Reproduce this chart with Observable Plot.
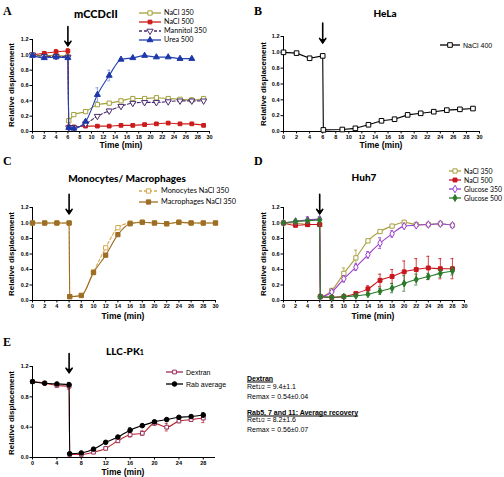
<!DOCTYPE html>
<html><head><meta charset="utf-8">
<script src="https://cdn.jsdelivr.net/npm/d3@7"></script>
<script src="https://cdn.jsdelivr.net/npm/@observablehq/plot@0.6"></script>
<style>
body{margin:0;background:#fff}
#fig{position:relative;width:504px;height:477px;overflow:hidden;background:#fff}
.t{position:absolute;white-space:nowrap;line-height:1;color:#000}
.abs{position:absolute}
</style></head><body><div id="fig"></div>
<script>
// ---------- DATA ----------
// Panel A: mCCDcII
const timeA = [0,2,4,6,6.15,7,9,11,13,15,17,19,21,23,25,27,29];
const aNaCl350 = [1.00,0.99,0.99,0.98,0.14,0.22,0.26,0.35,0.37,0.40,0.43,0.43,0.44,0.43,0.42,0.41,0.43];
const aNaCl350Err = [0,0,0,0,0.02,0.02,0.01,0.01,0.01,0.01,0.01,0.01,0.02,0.02,0.02,0.03,0.02];
const aNaCl500 = [1.00,1.02,1.04,1.05,0.06,0.06,0.07,0.07,0.07,0.08,0.08,0.09,0.10,0.11,0.10,0.10,0.08];
const aNaCl500Err = [0.01,0.02,0.03,0.03,0.02,0.01,0.01,0.01,0.01,0.01,0.01,0.01,0.01,0.01,0.01,0.01,0.01];
const aMannitol350 = [1.00,0.98,0.98,0.97,0.05,0.05,0.10,0.20,0.27,0.33,0.37,0.38,0.38,0.39,0.40,0.40,0.40];
const aMannitol350Err = [0,0,0,0,0.01,0.01,0.01,0.01,0.02,0.01,0.01,0.02,0.01,0.01,0.01,0.02,0.01];
const aUrea500 = [0.99,0.96,0.97,0.96,0.05,0.04,0.13,0.48,0.73,0.94,0.96,0.99,0.97,0.97,0.95,0.95,null];
const aUrea500Err = [0.01,0.02,0.01,0.01,0.01,0.01,0.01,0.09,0.07,0.01,0.01,0.01,0.01,0.01,0.01,0.01,0];
// Panel B: HeLa
const timeB = [0,2,4,6,6.1,9,11,13,15,17,19,21,23,25,27,29];
const bNaCl400 = [1.00,0.99,0.925,0.955,0.02,0.025,0.04,0.085,0.135,0.155,0.21,0.23,0.25,0.27,0.28,0.29];
// Panel C: Monocytes / Macrophages
const timeC = [0,2,4,6,6.1,8,10,12,14,16,18,20,22,24,26,28,30];
const cMonocytes = [1.00,1.00,1.00,1.00,0.05,0.065,0.37,0.68,0.94,1.00,1.01,1.00,0.99,1.01,1.00,1.00,1.00];
const cMacrophages = [1.00,1.00,1.00,1.00,0.05,0.065,0.36,0.585,0.85,0.99,1.01,1.00,0.99,1.01,1.00,1.00,1.00];
// Panel D: Huh7
const timeD = [0,2,4,6,6.1,8,10,12,14,16,18,20,22,24,26,28];
const dNaCl350 = [1.00,1.00,0.98,0.98,0.05,0.13,0.35,0.55,0.77,0.89,0.96,1.01,0.98,0.98,0.99,0.97];
const dNaCl350Err = [0,0.01,0.01,0.01,0,0.02,0.07,0.10,0.02,0.02,0.02,0.02,0.01,0.01,0.01,0.01];
const dNaCl500 = [1.00,0.97,0.98,0.98,0.05,0.04,0.05,0.09,0.15,0.26,0.31,0.37,0.40,0.42,0.41,0.41];
const dNaCl500Err = [0,0.01,0.01,0.01,0,0,0,0.01,0.04,0.08,0.09,0.14,0.14,0.15,0.13,0.13];
const dGlucose350 = [1.00,1.02,1.04,1.05,0.05,0.11,0.28,0.43,0.59,0.74,0.86,0.96,0.97,0.98,0.99,0.97];
const dGlucose350Err = [0.01,0.02,0.04,0.03,0,0.02,0.04,0.04,0.04,0.07,0.04,0.02,0.01,0.01,0.01,0.01];
const dGlucose500 = [1.00,1.02,1.03,1.04,0.05,0.04,0.05,0.06,0.08,0.12,0.16,0.22,0.27,0.31,0.35,0.38];
const dGlucose500Err = [0,0.01,0.01,0.01,0,0,0,0,0.01,0.04,0.06,0.10,0.07,0.04,0.05,0.05];
// Panel E: LLC-PK1
const timeE = [0,2,4,6,6.1,8,10,12,14,16,18,20,22,24,26,28];
const eDextran = [1.00,0.98,0.95,0.94,0.04,0.04,0.07,0.12,0.22,0.30,0.32,0.45,0.40,0.48,0.50,0.52];
const eDextranErr = [0,0.01,0.02,0.04,0,0.01,0.01,0.01,0.02,0.03,0.03,0.02,0.05,0.01,0.02,0.06];
const eRab = [1.00,0.98,0.97,0.96,0.05,0.06,0.11,0.20,0.27,0.36,0.42,0.47,0.50,0.53,0.54,0.56];
const eRabErr = [0,0.01,0.01,0.03,0,0.01,0.01,0.01,0.01,0.03,0.01,0.02,0.01,0.01,0.01,0.03];
// ticks
const ticksX2 = [0,2,4,6,8,10,12,14,16,18,20,22,24,26,28,30];
const ticksX4 = [0,4,8,12,16,20,24,28];
const ticksY2 = [0,0.2,0.4,0.6,0.8,1.0,1.2];
const ticksY4 = [0,0.4,0.8,1.2];
// stimulus arrow (time of addition, arrow from / to in y units)
const arrowStim = [{t:6, from:1.37, to:1.12}];
const statsE = [
  {head:"Dextran", ret:"9.4±1.1", remax:"0.54±0.04"},
  {head:"Rab5, 7 and 11: Average recovery", ret:"8.2±1.6", remax:"0.56±0.07"}
];

// ---------- HELPERS ----------
const fig = document.getElementById("fig");
const SANS = "'Liberation Sans', Arial, sans-serif";
const HUM = "Lato, 'Open Sans', sans-serif";

function text(str, x, y, {size=8, weight="normal", family=SANS, anchor="middle", html=false, underline=false}={}) {
  const d = document.createElement("div");
  d.className = "t";
  if (html) d.innerHTML = str; else d.textContent = str;
  d.style.left = x + "px"; d.style.top = y + "px";
  d.style.fontSize = size + "px"; d.style.fontWeight = weight; d.style.fontFamily = family;
  if (underline) d.style.textDecoration = "underline";
  const tx = anchor === "middle" ? "-50%" : anchor === "end" ? "-100%" : "0";
  d.style.transform = `translate(${tx},-50%)`;
  fig.appendChild(d);
  return d;
}
function ylabel(str, x, yc) {
  const d = document.createElement("div");
  d.className = "t";
  d.textContent = str;
  d.style.fontSize = "8px"; d.style.fontWeight = "bold"; d.style.fontFamily = SANS;
  d.style.left = x + "px"; d.style.top = yc + "px";
  d.style.transform = "translate(-50%,-50%) rotate(-90deg)";
  fig.appendChild(d);
}
const symMap = {square: d3.symbolSquare, triangle: d3.symbolTriangle, diamond: d3.symbolDiamond, circle: d3.symbolCircle};
function legendItem(s, x1, x2, y, label, {size=7.2, family=HUM}={}) {
  const svgNS = "http://www.w3.org/2000/svg";
  const w = x2 - x1;
  const svg = document.createElementNS(svgNS, "svg");
  svg.setAttribute("width", w + 10); svg.setAttribute("height", 14);
  svg.setAttribute("class", "abs");
  svg.style.left = (x1 - 5) + "px"; svg.style.top = (y - 7) + "px";
  const ln = document.createElementNS(svgNS, "line");
  ln.setAttribute("x1", 5); ln.setAttribute("x2", 5 + w); ln.setAttribute("y1", 7); ln.setAttribute("y2", 7);
  ln.setAttribute("stroke", s.line); ln.setAttribute("stroke-width", 1.3);
  if (s.dash) ln.setAttribute("stroke-dasharray", s.dash);
  svg.appendChild(ln);
  const p = document.createElementNS(svgNS, "path");
  p.setAttribute("d", d3.symbol(symMap[s.symbol], Math.PI * s.r * s.r)());
  p.setAttribute("transform", `translate(${5 + w/2},7) rotate(${s.rotate||0})`);
  p.setAttribute("fill", s.fill); p.setAttribute("stroke", s.stroke); p.setAttribute("stroke-width", 1);
  svg.appendChild(p);
  fig.appendChild(svg);
  text(label, x2 + 3, y, {size, family, anchor: "start"});
}

function panel({left, top, width, height, mL, mR, mT, mB, t, series, xTicks, yTicks}) {
  const marks = [
    Plot.ruleY([0], {stroke: "#000", strokeWidth: 1}),
    Plot.ruleX([0], {stroke: "#000", strokeWidth: 1}),
    Plot.axisX({ticks: xTicks, tickSize: 2.5, tickPadding: 1.5, fontSize: 5.5, fontWeight: "bold", label: null}),
    Plot.axisY({ticks: yTicks, tickFormat: d3.format(".1f"), tickSize: 2.5, tickPadding: 1.5, fontSize: 5.5, fontWeight: "bold", label: null})
  ];
  for (const s of series) {
    const rows = t.map((tt, i) => ({t: tt, v: s.v[i], e: s.e ? s.e[i] : 0})).filter(d => d.v != null);
    const er = rows.filter(d => d.e > 0);
    marks.push(Plot.line(rows, {x: "t", y: "v", stroke: s.line, strokeWidth: 1.1, strokeDasharray: s.dash, curve: s.curve || "monotone-x"}));
    const ec = s.err || s.line;
    marks.push(Plot.ruleX(er, {x: "t", y1: d => d.v - d.e, y2: d => d.v + d.e, stroke: ec, strokeWidth: 0.8}));
    marks.push(Plot.ruleY(er, {y: d => d.v + d.e, x1: d => d.t - 0.25, x2: d => d.t + 0.25, stroke: ec, strokeWidth: 0.8}));
    marks.push(Plot.ruleY(er, {y: d => d.v - d.e, x1: d => d.t - 0.25, x2: d => d.t + 0.25, stroke: ec, strokeWidth: 0.8}));
    marks.push(Plot.dot(rows, {x: "t", y: "v", symbol: s.symbol, r: s.r, fill: s.fill, stroke: s.stroke, strokeWidth: 1, rotate: s.rotate || 0}));
  }
  marks.push(Plot.arrow(arrowStim, {x1: "t", x2: "t", y1: "from", y2: "to", stroke: "#000", strokeWidth: 1.6, headLength: 5, headAngle: 70}));
  marks.push(Plot.dot(arrowStim, {x: "t", y: "to", symbol: "triangle", rotate: 180, r: 2.2, fill: "#000", dy: -2}));
  const p = Plot.plot({
    width, height, marginLeft: mL, marginRight: mR, marginTop: mT, marginBottom: mB,
    x: {domain: [0, 30]}, y: {domain: [0, 1.2]},
    style: {fontFamily: SANS, background: "transparent", overflow: "visible"},
    marks
  });
  p.style.position = "absolute"; p.style.left = left + "px"; p.style.top = top + "px";
  fig.appendChild(p);
}

// ---------- SERIES STYLES ----------
const OLIVE = "#a3a13a", RED = "#cc1b1b", DPURP = "#4a2c6e", BLUE = "#2443b3";
const sA = [
  {v: aNaCl350, e: aNaCl350Err, line: OLIVE, symbol: "square", r: 2.4, fill: "#fff", stroke: OLIVE},
  {v: aNaCl500, e: aNaCl500Err, line: RED, symbol: "square", r: 2.1, fill: RED, stroke: RED},
  {v: aMannitol350, e: aMannitol350Err, line: DPURP, dash: "3,2", symbol: "triangle", rotate: 180, r: 2.3, fill: "#fff", stroke: DPURP},
  {v: aUrea500, e: aUrea500Err, line: BLUE, err: "#7d8fd8", symbol: "triangle", r: 2.2, fill: "#1d37a8", stroke: "#1d37a8"}
];
const sB = [{v: bNaCl400, line: "#000", curve: "linear", symbol: "square", r: 2.6, fill: "#fff", stroke: "#000"}];
const TAN = "#d6a84c", BROWN = "#9c6e26";
const sC = [
  {v: cMonocytes, line: TAN, dash: "3,2", symbol: "square", r: 2.4, fill: "#fff", stroke: TAN},
  {v: cMacrophages, line: BROWN, symbol: "square", r: 2.4, fill: BROWN, stroke: BROWN}
];
const DOL = "#a9a042", DRED = "#c8141e", PURP = "#9a3fcf", GREEN = "#2a7a2a";
const sD = [
  {v: dNaCl350, e: dNaCl350Err, line: DOL, symbol: "square", r: 2.4, fill: "#fff", stroke: DOL},
  {v: dNaCl500, e: dNaCl500Err, line: DRED, symbol: "square", r: 2.2, fill: DRED, stroke: DRED},
  {v: dGlucose350, e: dGlucose350Err, line: PURP, symbol: "diamond", r: 2.3, fill: "#fff", stroke: PURP},
  {v: dGlucose500, e: dGlucose500Err, line: GREEN, symbol: "diamond", r: 2.1, fill: GREEN, stroke: GREEN}
];
const MAG = "#9a2d5c", LRED = "#b8262e";
const sE = [
  {v: eDextran, e: eDextranErr, line: LRED, err: LRED, symbol: "square", r: 2.1, fill: "#fff", stroke: MAG},
  {v: eRab, e: eRabErr, line: "#000", symbol: "circle", r: 2.3, fill: "#000", stroke: "#000"}
];

// ---------- PANELS ----------
panel({left: 0, top: 0, width: 252, height: 150, mL: 32, mR: 43, mT: 39, mB: 19, t: timeA, series: sA, xTicks: ticksX2, yTicks: ticksY2});
panel({left: 252, top: 0, width: 252, height: 150, mL: 31, mR: 25, mT: 36, mB: 19, t: timeB, series: sB, xTicks: ticksX2, yTicks: ticksY2});
panel({left: 0, top: 150, width: 252, height: 170, mL: 32, mR: 37, mT: 57, mB: 20, t: timeC, series: sC, xTicks: ticksX2, yTicks: ticksY2});
panel({left: 252, top: 150, width: 252, height: 170, mL: 31, mR: 40, mT: 57, mB: 20, t: timeD, series: sD, xTicks: ticksX2, yTicks: ticksY2});
panel({left: 0, top: 320, width: 252, height: 157, mL: 32, mR: 37, mT: 46, mB: 20, t: timeE, series: sE, xTicks: ticksX4, yTicks: ticksY4});

// ---------- TEXT ----------
const SERIF = "'Liberation Serif', 'DejaVu Serif', serif";
text("A", 3, 11, {size: 12, weight: "bold", family: SERIF, anchor: "start"});
text("B", 254, 11, {size: 12, weight: "bold", family: SERIF, anchor: "start"});
text("C", 3, 161, {size: 12, weight: "bold", family: SERIF, anchor: "start"});
text("D", 254, 161, {size: 12, weight: "bold", family: SERIF, anchor: "start"});
text("E", 3, 342, {size: 12, weight: "bold", family: SERIF, anchor: "start"});

text("mCCDcII", 96, 13, {size: 11, weight: "900", family: HUM});
text("HeLa", 385, 13, {size: 10, weight: "900", family: HUM});
text("Monocytes/ Macrophages", 127, 178, {size: 10, weight: "900", family: HUM});
text("Huh7", 364, 177, {size: 10, weight: "900", family: HUM});
text("LLC-PK<span style='font-size:70%'>1</span>", 125, 351, {size: 10, weight: "900", family: HUM, html: true});

ylabel("Relative displacement", 12, 85);
ylabel("Relative displacement", 264, 84);
ylabel("Relative displacement", 12, 254);
ylabel("Relative displacement", 264, 254);
ylabel("Relative displacement", 12, 413);
text("Time (min)", 121, 145, {size: 8.5, weight: "bold"});
text("Time (min)", 381, 145, {size: 8.5, weight: "bold"});
text("Time (min)", 123, 316, {size: 8.5, weight: "bold"});
text("Time (min)", 373, 316, {size: 8.5, weight: "bold"});
text("Time (min)", 123, 472, {size: 8.5, weight: "bold"});

// ---------- LEGENDS ----------
legendItem(sA[0], 139, 161, 13, "NaCl 350");
legendItem(sA[1], 139, 161, 22, "NaCl 500");
legendItem(sA[2], 139, 161, 31, "Mannitol 350");
legendItem(sA[3], 139, 161, 40, "Urea 500");
legendItem(sB[0], 440, 460, 45, "NaCl 400", {size: 7, family: SANS});
legendItem(sC[0], 139, 158, 191, "Monocytes NaCl 350", {size: 7.3});
legendItem(sC[1], 139, 158, 202, "Macrophages NaCl 350", {size: 7.3});
legendItem(sD[0], 449, 461, 171, "NaCl 350", {size: 6.9});
legendItem(sD[1], 449, 461, 179.5, "NaCl 500", {size: 6.9});
legendItem(sD[2], 449, 461, 188.5, "Glucose 350", {size: 6.9});
legendItem(sD[3], 449, 461, 198, "Glucose 500", {size: 6.9});
legendItem({...sE[0], line: MAG}, 166, 183, 372, "Dextran", {size: 7, family: SANS});
legendItem(sE[1], 166, 183, 384, "Rab average", {size: 7, family: SANS});

// ---------- STATS TEXT ----------
const rowsY = [[378, 387, 395.5], [412, 420, 428.5]];
statsE.forEach((s, i) => {
  text(s.head, 247, rowsY[i][0], {size: 7, weight: "bold", anchor: "start", underline: true});
  text("Ret<span style='font-size:70%'>1/2</span> = " + s.ret, 247, rowsY[i][1], {size: 7, anchor: "start", html: true});
  text("Remax = " + s.remax, 247, rowsY[i][2], {size: 7, anchor: "start"});
});
</script></body></html>
